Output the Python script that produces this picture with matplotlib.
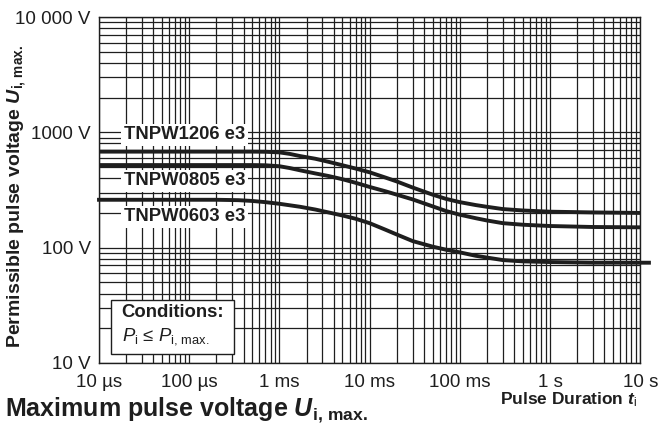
import matplotlib.pyplot as plt
from matplotlib.patches import Rectangle

plt.rcParams['font.family'] = ['Liberation Sans', 'DejaVu Sans']
plt.rcParams['mathtext.fontset'] = 'custom'
plt.rcParams['mathtext.rm'] = 'Liberation Sans'
plt.rcParams['mathtext.it'] = 'Liberation Sans:italic'
plt.rcParams['mathtext.bf'] = 'Liberation Sans:bold'
plt.rcParams['mathtext.bfit'] = 'Liberation Sans:italic:bold'

# pulse duration (s) and permissible pulse voltage (V)
t = [1e-5, 1e-4, 2e-4, 3.5e-4, 5e-4, 7e-4, 1e-3, 1.3e-3, 1.7e-3, 2.5e-3,
     3.5e-3, 5e-3, 7e-3, 1e-2, 1.5e-2, 2e-2, 3e-2, 5e-2, 7e-2, 0.1,
     0.15, 0.2, 0.3, 0.5, 1, 3, 10]
u_1206 = [680, 680, 680, 680, 680, 678, 670, 650, 622, 590,
          555, 518, 485, 450, 405, 375, 332, 288, 265, 248,
          234, 226, 216, 210, 205, 202, 200]
u_0805 = [520, 520, 520, 520, 520, 518, 508, 490, 468, 440,
          418, 392, 365, 336, 308, 288, 262, 228, 208, 193,
          180, 172, 163, 158, 154, 151, 150]
# the 0603 curve runs a little past 10 s in the original
t_0603 = t + [12.5]
u_0603 = [260, 260, 260, 258, 254, 248, 240, 233, 226, 214,
          202, 190, 178, 163, 143, 130, 114, 102, 96, 91,
          85, 82, 78, 76, 75, 74, 74, 74]

x_ticks = [1e-5, 1e-4, 1e-3, 1e-2, 1e-1, 1, 10]
x_labels = ["10 µs", "100 µs", "1 ms", "10 ms", "100 ms", "1 s", "10 s"]
y_ticks = [10, 100, 1000, 10000]
y_labels = ["10 V", "100 V", "1000 V", "10 000 V"]

ink = "#1e1e1e"

fig = plt.figure(figsize=(6.6, 4.25), dpi=100)
ax = fig.add_axes([0.150, 0.146, 0.820, 0.814])

ax.plot(t, u_1206, color=ink, lw=2.8, zorder=3, solid_joinstyle="round")
ax.plot(t, u_0805, color=ink, lw=2.8, zorder=3, solid_joinstyle="round")
ax.plot(t_0603, u_0603, color=ink, lw=2.8, zorder=3, clip_on=False,
        solid_joinstyle="round")

ax.set_xscale("log")
ax.set_yscale("log")
ax.set_xlim(1e-5, 10)
ax.set_ylim(10, 10000)
ax.set_xticks(x_ticks, x_labels)
ax.set_yticks(y_ticks, y_labels)
ax.tick_params(which="both", length=0, labelsize=13.5, colors=ink)
ax.tick_params(axis="x", pad=8)
ax.tick_params(axis="y", pad=6)
ax.grid(which="both", color=ink, lw=0.9)
for s in ax.spines.values():
    s.set_color(ink)
    s.set_linewidth(1.0)

# curve labels
for yy, name in [(0.659, "TNPW1206 e3"), (0.526, "TNPW0805 e3"), (0.423, "TNPW0603 e3")]:
    ax.text(0.046, yy, name, transform=ax.transAxes, fontsize=13.3, fontweight="bold",
            color=ink, va="center", ha="left", zorder=4,
            bbox=dict(facecolor="white", edgecolor="none", pad=1.8))

# conditions box
ax.add_patch(Rectangle((0.023, 0.026), 0.226, 0.156, transform=ax.transAxes,
                       facecolor="white", edgecolor=ink, lw=1.0, zorder=4))
ax.text(0.042, 0.145, "Conditions:", transform=ax.transAxes, fontsize=13.3,
        fontweight="bold", color=ink, va="center", ha="left", zorder=5)
ax.text(0.042, 0.076, r"$P_{\mathrm{i}}$ ≤ $P_{\mathrm{i,\,max.}}$", transform=ax.transAxes,
        fontsize=13.3, color=ink, va="center", ha="left", zorder=5)

ax.set_ylabel(r"Permissible pulse voltage $\mathbfit{U}_{\mathbf{i,\,max.}}$",
              fontsize=14, fontweight="bold", color=ink, va="center")
ax.yaxis.set_label_coords(-0.152, 0.48)
ax.set_xlabel(r"Pulse Duration $\mathbfit{t}_{\mathrm{i}}$",
              fontsize=12.5, fontweight="bold", color=ink, ha="right", va="center")
ax.xaxis.set_label_coords(0.994, -0.107)

fig.text(0.008, 0.02, r"Maximum pulse voltage $\mathbfit{U}_{\mathbf{i,\,max.}}$",
         fontsize=18, fontweight="bold", color=ink, va="baseline", ha="left")

fig.savefig("out.png", dpi=100)
